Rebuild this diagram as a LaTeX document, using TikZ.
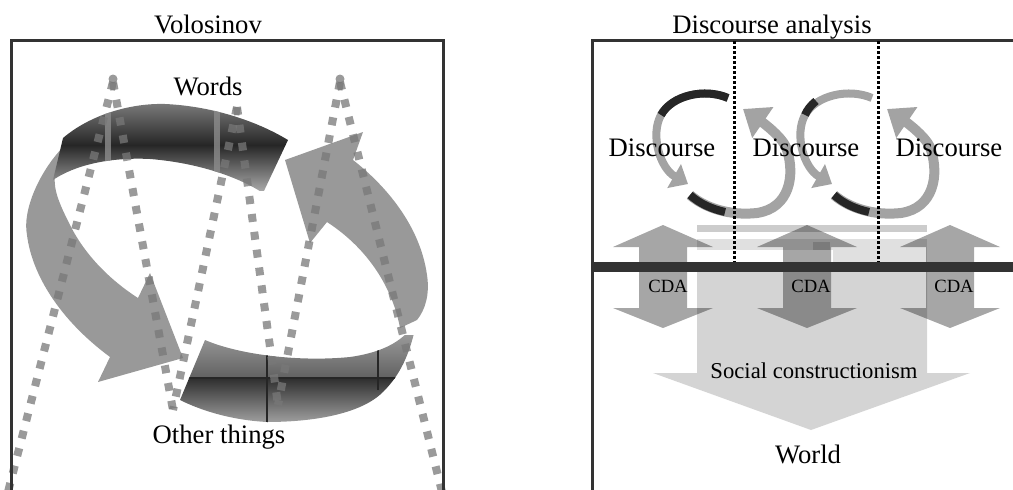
\documentclass[tikz,border=0pt]{standalone}
\usepackage{fontspec}
\setmainfont{Liberation Serif}
\usetikzlibrary{arrows.meta}
\begin{document}
\begin{tikzpicture}[x=0.75pt,y=-0.75pt,
  frameline/.style={draw=black!80,line width=2.25pt},
  armfill/.style={fill=black!40},
  zig/.style={draw=black!53,draw opacity=0.75,line width=6pt,dash pattern=on 6pt off 7.5pt},
  peakdot/.style={fill=black!53,fill opacity=0.75},
  bigtext/.style={font=\fontsize{20}{24}\selectfont,inner sep=0pt,anchor=base},
  midtext/.style={font=\fontsize{17}{20}\selectfont,inner sep=0pt,anchor=base},
  smalltext/.style={font=\fontsize{14}{16}\selectfont,inner sep=0pt,anchor=base},
  loopgray/.style={draw=black!36,line width=6pt},
  loopblack/.style={draw=black!85,line width=6pt},
  cdaarrow/.style={fill=black,fill opacity=0.35},
  dotline/.style={draw=black,line width=2.25pt,dash pattern=on 2.25pt off 1.5pt}
]
\useasboundingbox (0,0) rectangle (1013,489);

% ================= LEFT PANEL: Volosinov =================
% left curved arrow
\fill[armfill] (65,145) .. controls (40,170) and (22,210) .. (27,235)
  .. controls (32,275) and (60,320) .. (110,357) -- (98,382) -- (183,358)
  -- (150,273) -- (138,298) .. controls (110,280) and (85,255) .. (70,225)
  .. controls (60,205) and (53,190) .. (55,175) -- cycle;
% right curved arrow
\fill[armfill] (285,160) -- (363,132) -- (353,160)
  .. controls (385,185) and (420,225) .. (427,275)
  .. controls (430,295) and (425,310) .. (417,320) -- (400,328)
  .. controls (393,290) and (370,250) .. (327,222) -- (310,243) -- cycle;
% top ribbon
\begin{scope}
\clip (63,138) .. controls (90,115) and (130,103) .. (165,104)
  .. controls (210,106) and (255,120) .. (288,140) -- (263,193)
  .. controls (240,178) and (200,163) .. (150,159)
  .. controls (110,157) and (75,165) .. (53,180) -- cycle;
\shade[top color=black!50, bottom color=black!35, middle color=black!85] (40,100) rectangle (300,190);
\fill[black!45,opacity=.8] (105,100) rectangle (111,170);
\fill[black!45,opacity=.8] (214,100) rectangle (220,180);
\end{scope}
% bottom ribbon
\begin{scope}
\clip (205,340) .. controls (240,355) and (300,362) .. (350,357)
  .. controls (385,352) and (405,340) .. (417,320)
  .. controls (410,355) and (400,375) .. (383,392)
  .. controls (360,415) and (310,422) .. (267,422)
  .. controls (230,420) and (200,410) .. (180,400) -- cycle;
\shade[top color=black!40, bottom color=black!62] (170,335) rectangle (430,378);
\shade[top color=black!82, bottom color=black!35] (170,378) rectangle (430,425);
\draw[black!85,line width=0.9pt] (170,378) -- (430,378);
\draw[black!85,line width=0.9pt] (267,340) -- (267,425);
\draw[black!85,line width=0.9pt] (378,340) -- (378,390);
\end{scope}
% dotted zigzag
\coordinate (z0) at (8,492);
\coordinate (p1) at (113,82);
\coordinate (v1) at (173,410);
\coordinate (p2) at (237,107);
\coordinate (v2) at (278,405);
\coordinate (p3) at (340,82);
\coordinate (z1) at (442,492);
\draw[zig] (p1) -- (z0);
\draw[zig] (p1) -- (v1);
\draw[zig] (p2) -- (v1);
\draw[zig] (p2) -- (v2);
\draw[zig] (p3) -- (v2);
\draw[zig] (p3) -- (z1);
\fill[peakdot] (113,79) circle (4.5);
\fill[peakdot] (340,79) circle (4.5);
% frame
\draw[frameline] (11,492) -- (11,40) -- (443,40) -- (443,492);
% texts
\node[bigtext] (volo) at (208,33) {Volosinov};
\node[bigtext] (words) at (208,95) {Words};
\node[bigtext] (other) at (219,443) {Other things};

% ================= RIGHT PANEL: Discourse analysis =================
% big light arrow (social constructionism)
\fill[black!20] (697,225) rectangle (927,232);
\fill[black!12] (697,239) rectangle (927,250);
\fill[black!12] (833,250) rectangle (927,262);
\fill[black!17] (697,262) -- (927,262) -- (927,373) -- (970,373) -- (811,430)
  -- (653,373) -- (697,373) -- cycle;
% CDA double arrows
\foreach \cx in {663,807,950} {
  \fill[cdaarrow] (\cx,225) -- ({\cx+50},247) -- ({\cx+24},247) -- ({\cx+24},308)
    -- ({\cx+50},308) -- (\cx,328) -- ({\cx-50},308) -- ({\cx-24},308)
    -- ({\cx-24},247) -- ({\cx-50},247) -- cycle;
}
\fill[black,fill opacity=.15] (813,242) rectangle (830,250);
% frame and bar
\draw[frameline] (592,492) -- (592,40) -- (1016,40);
\fill[black!80] (592,262) rectangle (1016,272);
% discourse loops
\foreach \s in {0,144} {
  \begin{scope}[shift={(\s,0)}]
    \draw[loopgray,-{Triangle[width=20pt,length=12pt]}] (728,98)
      .. controls (705,88) and (672,95) .. (661,115)
      .. controls (650,135) and (660,168) .. (688,184);
    \draw[loopgray,line width=7.5pt,-{Triangle[width=27pt,length=18pt]}] (690,195)
      .. controls (705,208) and (730,216) .. (757,213)
      .. controls (790,208) and (795,175) .. (787,150)
      .. controls (784,138) and (762,122) .. (743,109);
    \draw[loopblack] (690,195) .. controls (700,204) and (712,209) .. (725,212);
  \end{scope}
}
\draw[loopblack] (728,98) .. controls (705,88) and (672,95) .. (661,115);
\draw[loopblack] (816,101) .. controls (811,105) and (807,110) .. (805,115);
% dotted dividers
\draw[dotline] (734,41) -- (734,262);
\draw[dotline] (878,41) -- (878,262);
% texts
\node[bigtext] (da) at (772,33) {Discourse analysis};
\node[bigtext] (d1) at (662,156) {Discourse};
\node[bigtext] (d2) at (806,156) {Discourse};
\node[bigtext] (d3) at (949,156) {Discourse};
\node[smalltext] (cda1) at (668,292) {CDA};
\node[smalltext] (cda2) at (811,292) {CDA};
\node[smalltext] (cda3) at (954,292) {CDA};
\node[midtext] (sc) at (814,378) {Social constructionism};
\node[bigtext] (world) at (808,463) {World};
\end{tikzpicture}
\end{document}
